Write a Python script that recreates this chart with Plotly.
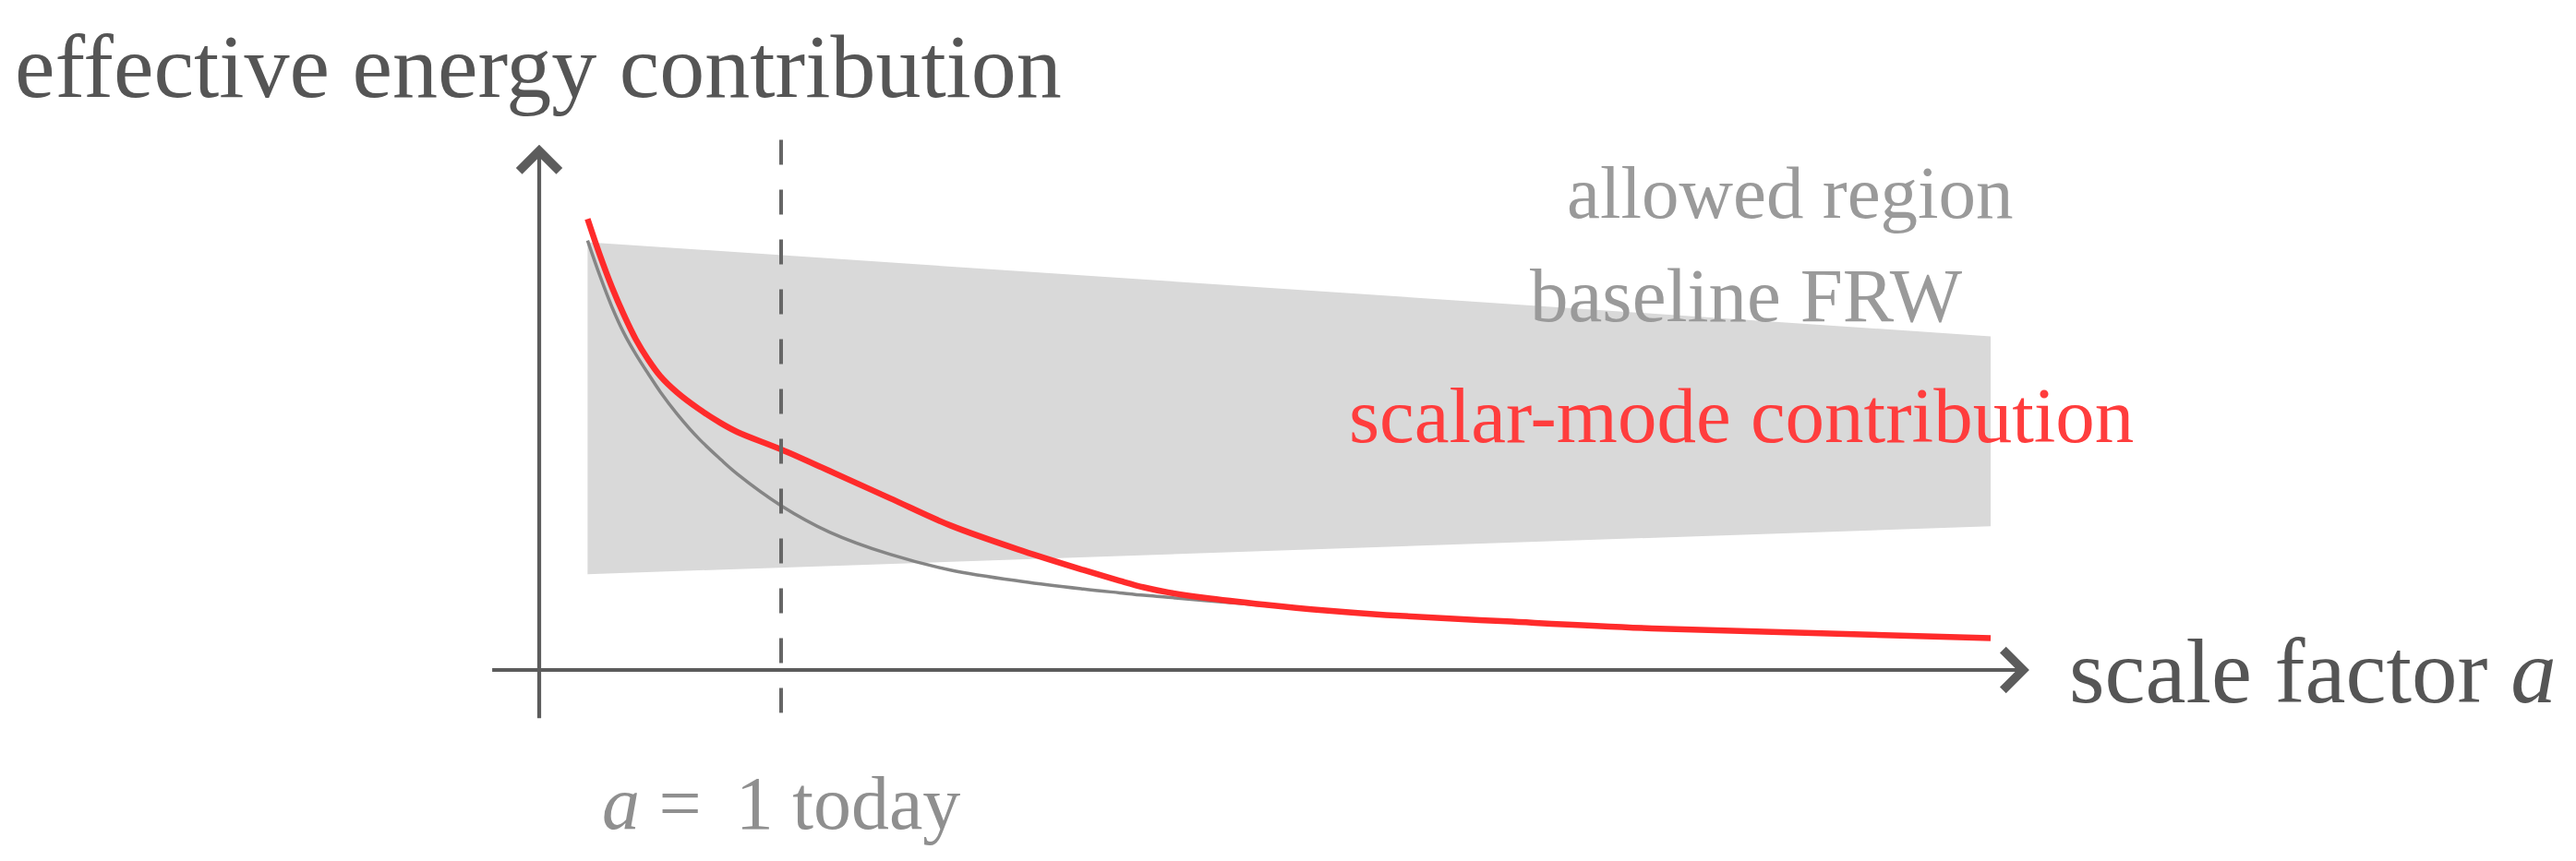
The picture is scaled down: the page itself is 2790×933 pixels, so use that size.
import plotly.graph_objects as go

# scale factor a (x) and effective energy contribution (arbitrary units, FRW = 1 at a = 1)
a_vals = [0.2, 0.25, 0.3, 0.35, 0.4, 0.45, 0.5, 0.57, 0.66, 0.75, 0.82, 1.0, 1.2, 1.45,
          1.7, 2.0, 2.25, 2.4, 2.5, 2.6, 2.75, 3.0, 3.25, 3.5, 4.0, 4.6, 5.3, 6.0]
frw_vals = [2.60, 2.39, 2.20, 2.04, 1.91, 1.795, 1.685, 1.55, 1.40, 1.275, 1.185, 0.995, 0.835, 0.70,
            0.605, 0.535, 0.49, 0.467, 0.452, 0.44, 0.42, 0.39, 0.36, 0.333, 0.294, 0.252, 0.222, 0.193]
scalar_vals = [2.73, 2.515, 2.32, 2.15, 2.00, 1.88, 1.78, 1.68, 1.58, 1.495, 1.44, 1.335, 1.205, 1.04,
               0.875, 0.72, 0.605, 0.54, 0.50, 0.47, 0.437, 0.395, 0.36, 0.333, 0.294, 0.252, 0.222, 0.193]

# allowed band: edges at the two ends
band_a = [0.2, 6.0]
band_upper = [2.59, 2.02]
band_lower = [0.58, 0.87]

a_today = 1.0

FONT = "Liberation Serif"
AXIS_COL = "#5c5c5c"
TEXT_DARK = "#555555"
LABEL_GRAY = "#9a9a9a"
RED = "#ff2b2b"

fig = go.Figure()

# allowed region polygon
fig.add_trace(go.Scatter(
    x=band_a + band_a[::-1] + [band_a[0]],
    y=band_upper + band_lower[::-1] + [band_upper[0]],
    fill="toself", fillcolor="#d9d9d9", mode="lines",
    line=dict(width=0, color="#d9d9d9"), hoverinfo="skip"))

fig.add_trace(go.Scatter(x=a_vals, y=frw_vals, mode="lines",
                         line=dict(color="#858585", width=3.5, shape="spline", smoothing=1.0)))
fig.add_trace(go.Scatter(x=a_vals, y=scalar_vals, mode="lines",
                         line=dict(color=RED, width=6.5, shape="spline", smoothing=1.0)))

# a = 1 today marker (dashes start from the top)
fig.add_shape(type="line", x0=a_today, x1=a_today, y0=3.21, y1=-0.32,
              line=dict(color="#666666", width=4, dash="27px,27px"), layer="above")

# axes with arrow heads
for (x0, y0, x1, y1) in [(-0.2, 0, 6.16, 0), (0, -0.30, 0, 3.18)]:
    fig.add_annotation(x=x1, y=y1, ax=x0, ay=y0, xref="x", yref="y", axref="x", ayref="y",
                       text="", showarrow=True, arrowhead=4, arrowsize=2.0,
                       arrowwidth=4.2, arrowcolor=AXIS_COL, standoff=0)

# text
fig.add_annotation(x=-2.176, y=3.654, text="effective energy contribution", showarrow=False,
                   xanchor="left", yanchor="middle",
                   font=dict(family=FONT, size=98, color=TEXT_DARK))
fig.add_annotation(x=6.317, y=-0.011, text="scale factor <i>a</i>", showarrow=False,
                   xanchor="left", yanchor="middle",
                   font=dict(family=FONT, size=99, color=TEXT_DARK))
fig.add_annotation(x=5.172, y=2.888, text="allowed region", showarrow=False,
                   xanchor="center", yanchor="middle",
                   font=dict(family=FONT, size=81, color=LABEL_GRAY))
fig.add_annotation(x=4.989, y=2.268, text="baseline FRW", showarrow=False,
                   xanchor="center", yanchor="middle",
                   font=dict(family=FONT, size=83, color=LABEL_GRAY))
fig.add_annotation(x=4.97, y=1.542, text="scalar-mode contribution", showarrow=False,
                   xanchor="center", yanchor="middle",
                   font=dict(family=FONT, size=85, color="#ff3d3d"))
fig.add_annotation(x=a_today, y=-0.81, text="<i>a</i> = \u20091 today", showarrow=False,
                   xanchor="center", yanchor="middle",
                   font=dict(family=FONT, size=82, color="#8f8f8f"))

# page has an 8px body margin: figure spans window px 8..2782 / 8..925
# mapping (window px): a = (X - 584) / 262, y = (726 - Y) / 179
fig.update_xaxes(range=[(8 - 584) / 262, (2782 - 584) / 262], visible=False, fixedrange=True)
fig.update_yaxes(range=[(726 - 925) / 179, (726 - 8) / 179], visible=False, fixedrange=True)
fig.update_layout(width=2774, height=917, margin=dict(l=0, r=0, t=0, b=0),
                  paper_bgcolor="white", plot_bgcolor="white", showlegend=False)

fig.write_html("out.html", config={"displayModeBar": False})
